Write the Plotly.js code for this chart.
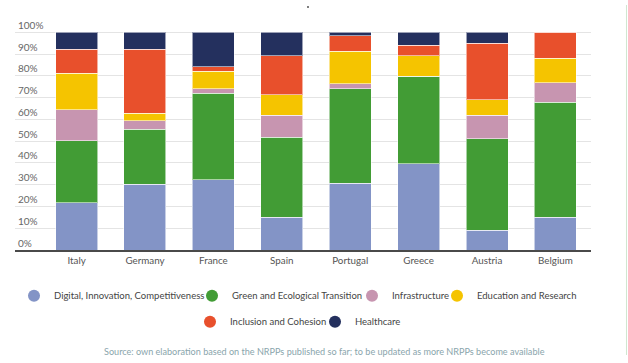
<!DOCTYPE html>
<html>
<head>
<meta charset="utf-8">
<script src="https://cdn.plot.ly/plotly-3.0.1.min.js"></script>
<style>
html,body{margin:0;padding:0;background:#fff;}
#chart{width:628px;height:363px;}
</style>
</head>
<body>
<div id="chart"></div>
<script>
var countries = ["Italy","Germany","France","Spain","Portugal","Greece","Austria","Belgium"];
var seriesNames = ["Digital, Innovation, Competitiveness","Green and Ecological Transition","Infrastructure","Education and Research","Inclusion and Cohesion","Healthcare"];
var digital   = [21.7, 30.3, 32.2, 15.0, 30.6, 39.5,  9.0, 15.0];
var green     = [28.5, 25.1, 39.8, 36.8, 43.5, 40.4, 42.0, 52.8];
var infra     = [14.1,  3.9,  2.1, 10.1,  2.2,  0.0, 10.9,  9.1];
var education = [16.9,  3.5,  8.1,  9.3, 15.0,  9.2,  7.0, 11.2];
var inclusion = [11.0, 29.4,  2.0, 18.1,  7.2,  4.9, 26.0, 11.9];
var healthcare= [ 7.8,  7.8, 15.8, 10.7,  1.5,  6.0,  5.1,  0.0];
var yTicks = [0,10,20,30,40,50,60,70,80,90,100];
var yTickLabels = ["0%","10%","20%","30%","40%","50%","60%","70%","80%","90%","100%"];
var sourceText = "Source: own elaboration based on the NRPPs published so far; to be updated as more NRPPs become available";

var values = [digital, green, infra, education, inclusion, healthcare];
var colors = ["#8394c6","#429c35","#c795b0","#f5c400","#e8502c","#24305e"];
var FONT = "Lato, 'Open Sans', sans-serif";

// one legend per entry so the two centred rows can be laid out like the original
var legendIds = ["legend","legend2","legend3","legend4","legend5","legend6"];
var textStartPx = [52, 230, 390, 475, 228, 353];
var legendY = [-0.196, -0.196, -0.196, -0.196, -0.3077, -0.3077];

var traces = [];
values.forEach(function(v, i){
  traces.push({
    type: "bar", x: countries, y: v, name: seriesNames[i],
    marker: {color: colors[i], line: {color: "rgba(255,255,255,0.55)", width: 1}},
    showlegend: false
  });
});
values.forEach(function(v, i){
  traces.push({
    type: "scatter", mode: "markers", x: [null], y: [null], name: seriesNames[i],
    marker: {color: colors[i], size: 12, symbol: "circle"},
    legend: legendIds[i], showlegend: true
  });
});

var layout = {
  width: 628, height: 363,
  margin: {l: 15, r: 37, t: 17, b: 113, pad: 0},
  paper_bgcolor: "#ffffff", plot_bgcolor: "#ffffff",
  font: {family: FONT, size: 10, color: "#555"},
  barmode: "stack", bargap: 0.386,
  xaxis: {
    type: "category", range: [-0.9, 7.52], showline: true, linecolor: "#4a4a4a", linewidth: 2,
    ticks: "", showgrid: false, zeroline: false, fixedrange: true,
    tickfont: {family: FONT, size: 9.8, color: "#555"}
  },
  yaxis: {
    range: [0, 107], tickmode: "array", tickvals: yTicks, ticktext: yTickLabels,
    ticklabelposition: "inside top",
    showgrid: true, gridcolor: "#e4e4e4", gridwidth: 1, zeroline: false, showline: false,
    ticks: "", fixedrange: true,
    tickfont: {family: FONT, size: 10, color: "#666"}
  },
  annotations: [{
    text: sourceText, xref: "paper", yref: "paper", x: 0.538, y: -0.4335,
    xanchor: "center", yanchor: "middle", showarrow: false,
    font: {family: FONT, size: 9.1, color: "#8aa5ac"}
  }],
  shapes: [
    {type: "line", xref: "paper", yref: "paper", x0: 1.0616, x1: 1.0616, y0: 1.0515, y1: -0.4506,
     line: {color: "#cfe6cf", width: 1}},
    {type: "circle", xref: "paper", yref: "paper", x0: 0.5069, x1: 0.5104, y0: 1.039, y1: 1.047,
     fillcolor: "#555", line: {width: 0}}
  ]
};
legendIds.forEach(function(id, i){
  layout[id] = {
    orientation: "h", x: (textStartPx[i] - 38 - 15) / 576, xanchor: "left", y: legendY[i], yanchor: "middle",
    font: {family: FONT, size: 9.5, color: "#444"}, itemsizing: "constant",
    bgcolor: "rgba(0,0,0,0)", borderwidth: 0
  };
});

Plotly.newPlot("chart", traces, layout, {displayModeBar: false, staticPlot: true});
</script>
</body>
</html>
